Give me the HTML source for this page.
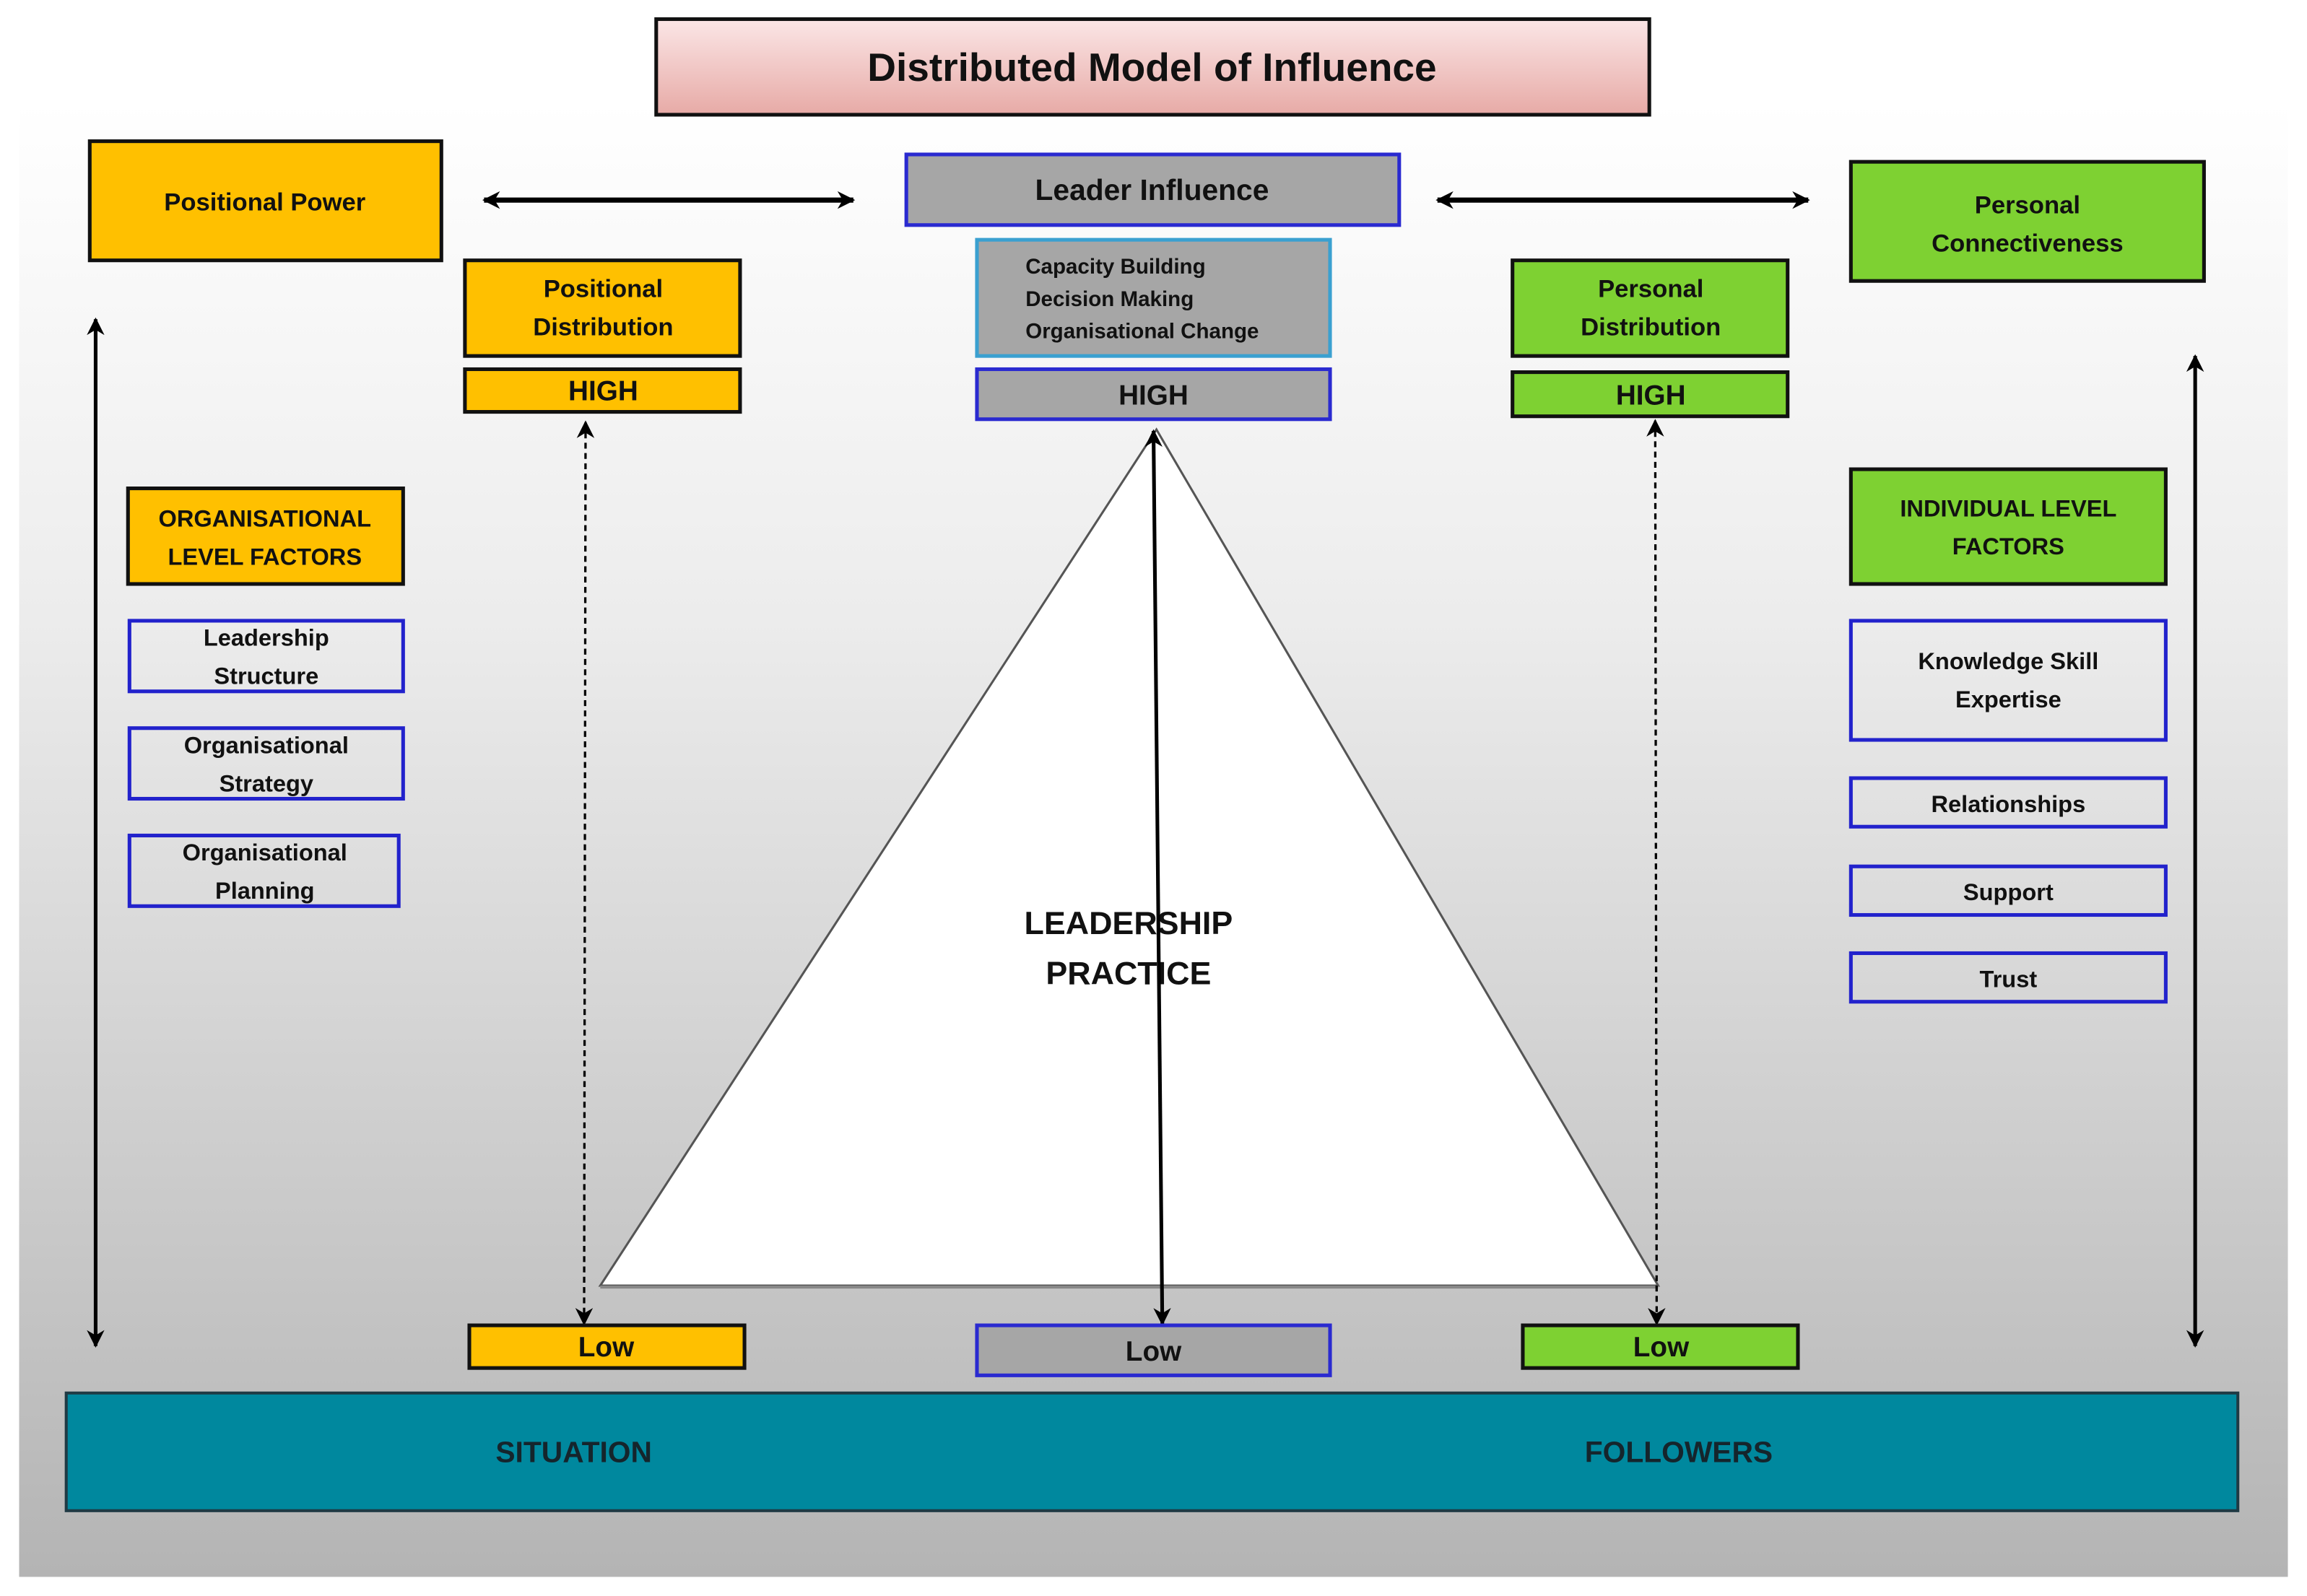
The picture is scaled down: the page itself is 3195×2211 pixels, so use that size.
<!DOCTYPE html>
<html><head><meta charset="utf-8"><style>
html,body{margin:0;padding:0;background:#fff;}
svg{display:block;}
text{font-family:"Liberation Sans",sans-serif;font-weight:bold;fill:#111;}
</style></head><body>
<svg width="3195" height="2211" viewBox="0 0 1568 1085" preserveAspectRatio="none" xmlns="http://www.w3.org/2000/svg">
<defs>
<linearGradient id="bg" x1="0" y1="0" x2="0" y2="1">
<stop offset="0" stop-color="#ffffff"/><stop offset="0.35" stop-color="#ececec"/><stop offset="1" stop-color="#b4b4b4"/></linearGradient>
<linearGradient id="pink" x1="0" y1="0" x2="0" y2="1">
<stop offset="0" stop-color="#fbe6e6"/><stop offset="1" stop-color="#e7aaa6"/></linearGradient>
<marker id="ah" viewBox="0 0 10 10" refX="9" refY="5" markerUnits="userSpaceOnUse" markerWidth="12" markerHeight="12" orient="auto-start-reverse"><path d="M0,0 L10,5 L0,10 L3,5 Z" fill="#000"/></marker>
</defs>
<rect x="13" y="70" width="1542" height="1002" fill="url(#bg)"/>
<rect x="446" y="13" width="675" height="65" fill="url(#pink)" stroke="#111" stroke-width="2.5"/>
<text x="783" y="55" font-size="27" text-anchor="middle">Distributed Model of Influence</text>
<rect x="61" y="96" width="239" height="81" fill="#ffc000" stroke="#111" stroke-width="2.5"/>
<text x="180" y="143" font-size="17" text-anchor="middle">Positional Power</text>
<line x1="329" y1="136" x2="580" y2="136" stroke="#000" stroke-width="3.5" marker-start="url(#ah)" marker-end="url(#ah)"/>
<rect x="616" y="105" width="335" height="48" fill="#a6a6a6" stroke="#2a2ad0" stroke-width="2.5"/>
<text x="783" y="136" font-size="20" text-anchor="middle">Leader Influence</text>
<line x1="977" y1="136" x2="1229" y2="136" stroke="#000" stroke-width="3.5" marker-start="url(#ah)" marker-end="url(#ah)"/>
<rect x="1258" y="110" width="240" height="81" fill="#7ed132" stroke="#111" stroke-width="2.5"/>
<text x="1378" y="145" font-size="17" text-anchor="middle">Personal</text>
<text x="1378" y="171" font-size="17" text-anchor="middle">Connectiveness</text>
<rect x="316" y="177" width="187" height="65" fill="#ffc000" stroke="#111" stroke-width="2.5"/>
<text x="410" y="202" font-size="17" text-anchor="middle">Positional</text>
<text x="410" y="228" font-size="17" text-anchor="middle">Distribution</text>
<rect x="316" y="251" width="187" height="29" fill="#ffc000" stroke="#111" stroke-width="2.5"/>
<text x="410" y="272" font-size="19" text-anchor="middle">HIGH</text>
<rect x="664" y="163" width="240" height="79" fill="#a6a6a6" stroke="#3aa0d0" stroke-width="2.5"/>
<text x="697" y="186" font-size="14.5">Capacity Building</text>
<text x="697" y="208" font-size="14.5">Decision Making</text>
<text x="697" y="230" font-size="14.5">Organisational Change</text>
<rect x="664" y="251" width="240" height="34" fill="#a6a6a6" stroke="#2a2ad0" stroke-width="2.5"/>
<text x="784" y="275" font-size="19" text-anchor="middle">HIGH</text>
<rect x="1028" y="177" width="187" height="65" fill="#7ed132" stroke="#111" stroke-width="2.5"/>
<text x="1122" y="202" font-size="17" text-anchor="middle">Personal</text>
<text x="1122" y="228" font-size="17" text-anchor="middle">Distribution</text>
<rect x="1028" y="253" width="187" height="30" fill="#7ed132" stroke="#111" stroke-width="2.5"/>
<text x="1122" y="275" font-size="19" text-anchor="middle">HIGH</text>
<line x1="65" y1="217" x2="65" y2="915" stroke="#000" stroke-width="2.5" marker-start="url(#ah)" marker-end="url(#ah)"/>
<line x1="1492" y1="242" x2="1492" y2="915" stroke="#000" stroke-width="2.5" marker-start="url(#ah)" marker-end="url(#ah)"/>
<rect x="87" y="332" width="187" height="65" fill="#ffc000" stroke="#111" stroke-width="2.5"/>
<text x="180" y="358" font-size="16" text-anchor="middle">ORGANISATIONAL</text>
<text x="180" y="384" font-size="16" text-anchor="middle">LEVEL FACTORS</text>
<g fill="none" stroke="#2222cc" stroke-width="2.5">
<rect x="88" y="422" width="186" height="48"/>
<rect x="88" y="495" width="186" height="48"/>
<rect x="88" y="568" width="183" height="48"/>
<rect x="1258" y="422" width="214" height="81"/>
<rect x="1258" y="529" width="214" height="33"/>
<rect x="1258" y="589" width="214" height="33"/>
<rect x="1258" y="648" width="214" height="33"/>
</g>
<g font-size="16" text-anchor="middle">
<text x="181" y="439">Leadership</text><text x="181" y="465">Structure</text>
<text x="181" y="512">Organisational</text><text x="181" y="538">Strategy</text>
<text x="180" y="585">Organisational</text><text x="180" y="611">Planning</text>
<text x="1365" y="455">Knowledge Skill</text><text x="1365" y="481">Expertise</text>
<text x="1365" y="552">Relationships</text>
<text x="1365" y="612">Support</text>
<text x="1365" y="671">Trust</text>
</g>
<rect x="1258" y="319" width="214" height="78" fill="#7ed132" stroke="#111" stroke-width="2.5"/>
<text x="1365" y="351" font-size="16" text-anchor="middle">INDIVIDUAL LEVEL</text>
<text x="1365" y="377" font-size="16" text-anchor="middle">FACTORS</text>
<polygon points="786,292 408,874 1127,874" fill="#fff" stroke="#555" stroke-width="1.5"/>
<line x1="408" y1="875" x2="1127" y2="875" stroke="#888" stroke-width="2"/>
<text x="767" y="635" font-size="22" text-anchor="middle">LEADERSHIP</text>
<text x="767" y="669" font-size="22" text-anchor="middle">PRACTICE</text>
<line x1="784" y1="293" x2="790" y2="900" stroke="#000" stroke-width="2.5" marker-start="url(#ah)" marker-end="url(#ah)"/>
<line x1="398" y1="287" x2="397" y2="900" stroke="#000" stroke-width="1.6" stroke-dasharray="4,3" marker-start="url(#ah)" marker-end="url(#ah)"/>
<line x1="1125" y1="286" x2="1126" y2="900" stroke="#000" stroke-width="1.6" stroke-dasharray="4,3" marker-start="url(#ah)" marker-end="url(#ah)"/>
<rect x="319" y="901" width="187" height="29" fill="#ffc000" stroke="#111" stroke-width="2.5"/>
<text x="412" y="922" font-size="19" text-anchor="middle">Low</text>
<rect x="664" y="901" width="240" height="34" fill="#a6a6a6" stroke="#2a2ad0" stroke-width="2.5"/>
<text x="784" y="925" font-size="19" text-anchor="middle">Low</text>
<rect x="1035" y="901" width="187" height="29" fill="#7ed132" stroke="#111" stroke-width="2.5"/>
<text x="1129" y="922" font-size="19" text-anchor="middle">Low</text>
<rect x="45" y="947" width="1476" height="80" fill="#00889e" stroke="#1f3a44" stroke-width="2"/>
<text x="390" y="994" font-size="20" text-anchor="middle" style="fill:#15252c">SITUATION</text>
<text x="1141" y="994" font-size="20" text-anchor="middle" style="fill:#15252c">FOLLOWERS</text>
</svg>
</body></html>
